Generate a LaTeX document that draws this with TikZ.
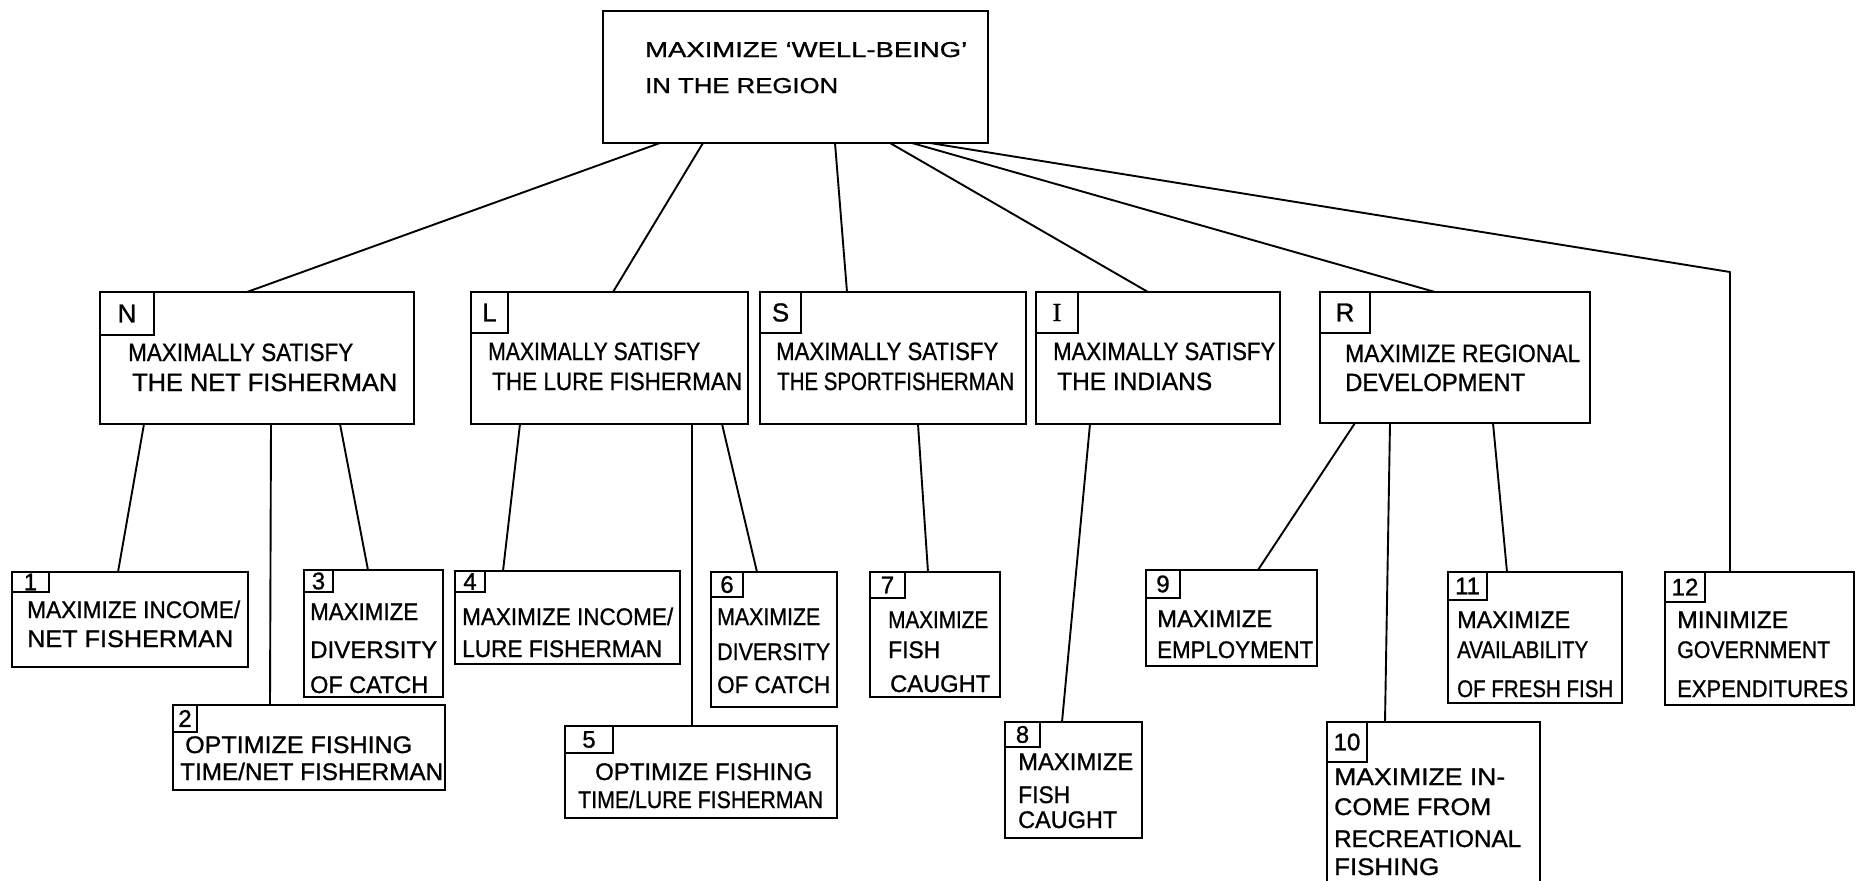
\documentclass[tikz,border=0pt]{standalone}
\usepackage{fontspec}
\usepackage{graphicx}
\setmainfont{Liberation Sans}[FakeBold=1.0]
\newfontfamily\serifI{Liberation Serif}[FakeBold=1.0]
\newcommand\fitw[2]{\resizebox{#1pt}{\height}{#2}}
\tikzset{
  box/.style={draw, line width=2.8pt, anchor=north west, inner sep=0pt, outer sep=0pt},
  lab/.style={draw, line width=1.5pt, anchor=north west, inner sep=0pt, outer sep=0pt, font=\fontsize{24}{24}\selectfont},
  labL/.style={lab, font=\fontsize{26}{26}\selectfont},
  ttop/.style={anchor=base west, inner sep=0pt, font=\fontsize{21.5}{26}\selectfont},
  tmid/.style={anchor=base west, inner sep=0pt, font=\fontsize{25}{30}\selectfont},
  tlow/.style={anchor=base west, inner sep=0pt, font=\fontsize{24}{28}\selectfont},
  conn/.style={line width=1.9pt, line cap=round, line join=round},
}
\begin{document}
\begin{tikzpicture}[x=1pt,y=-1pt]
\path[use as bounding box, fill=white] (0,0) rectangle (1856,881);
\clip (0,0) rectangle (1856,881);

% ---- top
\node[box, minimum width=385, minimum height=132] (top) at (603,11) {};
\node[ttop] (top-1) at (645,57) {\fitw{322}{MAXIMIZE `WELL-BEING'}};
\node[ttop] (top-2) at (645,93) {\fitw{193}{IN THE REGION}};

% ---- level 2
\node[box, minimum width=314, minimum height=132] (N) at (100,292) {};
\node[labL, minimum width=54, minimum height=43] (Nl) at (N.north west) {N};
\node[tmid] (N-1) at (128,361) {\fitw{225}{MAXIMALLY SATISFY}};
\node[tmid] (N-2) at (132,391) {\fitw{265}{THE NET FISHERMAN}};

\node[box, minimum width=277, minimum height=132] (L) at (471,292) {};
\node[labL, minimum width=37, minimum height=41] (Ll) at (L.north west) {L};
\node[tmid] (L-1) at (488,360) {\fitw{212}{MAXIMALLY SATISFY}};
\node[tmid] (L-2) at (492,390) {\fitw{250}{THE LURE FISHERMAN}};

\node[box, minimum width=266, minimum height=132] (S) at (760,292) {};
\node[labL, minimum width=41, minimum height=41] (Sl) at (S.north west) {S};
\node[tmid] (S-1) at (776,360) {\fitw{222}{MAXIMALLY SATISFY}};
\node[tmid] (S-2) at (777,390) {\fitw{237}{THE SPORTFISHERMAN}};

\node[box, minimum width=244, minimum height=132] (I) at (1036,292) {};
\node[labL, minimum width=42, minimum height=41] (Il) at (I.north west) {\serifI I};
\node[tmid] (I-1) at (1053,360) {\fitw{222}{MAXIMALLY SATISFY}};
\node[tmid] (I-2) at (1057,390) {\fitw{155}{THE INDIANS}};

\node[box, minimum width=270, minimum height=131] (R) at (1320,292) {};
\node[labL, minimum width=50, minimum height=41] (Rl) at (R.north west) {R};
\node[tmid] (R-1) at (1345,362) {\fitw{235}{MAXIMIZE REGIONAL}};
\node[tmid] (R-2) at (1345,391) {\fitw{180}{DEVELOPMENT}};

% ---- level 3
\node[box, minimum width=236, minimum height=95] (B1) at (12,572) {};
\node[lab, minimum width=37, minimum height=20] (B1l) at (B1.north west) {1};
\node[tlow] (B1-1) at (27,618) {\fitw{213}{MAXIMIZE INCOME/}};
\node[tlow] (B1-2) at (27,647) {\fitw{206}{NET FISHERMAN}};

\node[box, minimum width=272, minimum height=85] (B2) at (173,705) {};
\node[lab, minimum width=24, minimum height=27] (B2l) at (B2.north west) {2};
\node[tlow] (B2-1) at (185,753) {\fitw{227}{OPTIMIZE FISHING}};
\node[tlow] (B2-2) at (180,780) {\fitw{263}{TIME/NET FISHERMAN}};

\node[box, minimum width=139, minimum height=127] (B3) at (304,570) {};
\node[lab, minimum width=29, minimum height=22] (B3l) at (B3.north west) {3};
\node[tlow] (B3-1) at (310,620) {\fitw{108}{MAXIMIZE}};
\node[tlow] (B3-2) at (310,658) {\fitw{127}{DIVERSITY}};
\node[tlow] (B3-3) at (310,693) {\fitw{118}{OF CATCH}};

\node[box, minimum width=225, minimum height=93] (B4) at (455,571) {};
\node[lab, minimum width=30, minimum height=21] (B4l) at (B4.north west) {4};
\node[tlow] (B4-1) at (462,625) {\fitw{211}{MAXIMIZE INCOME/}};
\node[tlow] (B4-2) at (462,657) {\fitw{200}{LURE FISHERMAN}};

\node[box, minimum width=272, minimum height=92] (B5) at (565,726) {};
\node[lab, minimum width=48, minimum height=27] (B5l) at (B5.north west) {5};
\node[tlow] (B5-1) at (595,780) {\fitw{217}{OPTIMIZE FISHING}};
\node[tlow] (B5-2) at (578,808) {\fitw{245}{TIME/LURE FISHERMAN}};

\node[box, minimum width=126, minimum height=135] (B6) at (711,572) {};
\node[lab, minimum width=32, minimum height=25] (B6l) at (B6.north west) {6};
\node[tlow] (B6-1) at (717,625) {\fitw{103}{MAXIMIZE}};
\node[tlow] (B6-2) at (717,660) {\fitw{113}{DIVERSITY}};
\node[tlow] (B6-3) at (717,693) {\fitw{113}{OF CATCH}};

\node[box, minimum width=130, minimum height=125] (B7) at (870,572) {};
\node[lab, minimum width=35, minimum height=26] (B7l) at (B7.north west) {7};
\node[tlow] (B7-1) at (888,628) {\fitw{100}{MAXIMIZE}};
\node[tlow] (B7-2) at (888,658) {\fitw{52}{FISH}};
\node[tlow] (B7-3) at (890,692) {\fitw{100}{CAUGHT}};

\node[box, minimum width=137, minimum height=116] (B8) at (1005,722) {};
\node[lab, minimum width=35, minimum height=25] (B8l) at (B8.north west) {8};
\node[tlow] (B8-1) at (1018,770) {\fitw{115}{MAXIMIZE}};
\node[tlow] (B8-2) at (1018,803) {\fitw{52}{FISH}};
\node[tlow] (B8-3) at (1018,828) {\fitw{99}{CAUGHT}};

\node[box, minimum width=171, minimum height=96] (B9) at (1146,570) {};
\node[lab, minimum width=34, minimum height=28] (B9l) at (B9.north west) {9};
\node[tlow] (B9-1) at (1157,627) {\fitw{115}{MAXIMIZE}};
\node[tlow] (B9-2) at (1157,658) {\fitw{156}{EMPLOYMENT}};

\node[box, minimum width=213, minimum height=200] (B10) at (1327,722) {};
\node[lab, minimum width=40, minimum height=40] (B10l) at (B10.north west) {10};
\node[tlow] (B10-1) at (1334,785) {\fitw{171}{MAXIMIZE IN-}};
\node[tlow] (B10-2) at (1334,815) {\fitw{157}{COME FROM}};
\node[tlow] (B10-3) at (1334,847) {\fitw{187}{RECREATIONAL}};
\node[tlow] (B10-4) at (1334,875) {\fitw{105}{FISHING}};

\node[box, minimum width=174, minimum height=131] (B11) at (1448,572) {};
\node[lab, minimum width=39, minimum height=28] (B11l) at (B11.north west) {11};
\node[tlow] (B11-1) at (1457,628) {\fitw{113}{MAXIMIZE}};
\node[tlow] (B11-2) at (1457,658) {\fitw{131}{AVAILABILITY}};
\node[tlow] (B11-3) at (1457,697) {\fitw{156}{OF FRESH FISH}};

\node[box, minimum width=189, minimum height=133] (B12) at (1665,572) {};
\node[lab, minimum width=40, minimum height=30] (B12l) at (B12.north west) {12};
\node[tlow] (B12-1) at (1677,628) {\fitw{111}{MINIMIZE}};
\node[tlow] (B12-2) at (1677,658) {\fitw{153}{GOVERNMENT}};
\node[tlow] (B12-3) at (1677,697) {\fitw{171}{EXPENDITURES}};

% ---- connectors top -> level 2
\draw[conn] ([xshift=57pt]top.south west) -- ([xshift=147pt]N.north west);
\draw[conn] ([xshift=100pt]top.south west) -- ([xshift=142pt]L.north west);
\draw[conn] ([xshift=232pt]top.south west) -- ([xshift=87pt]S.north west);
\draw[conn] ([xshift=287pt]top.south west) -- ([xshift=112pt]I.north west);
\draw[conn] ([xshift=309pt]top.south west) -- ([xshift=115pt]R.north west);
\coordinate (k12) at (1730,272);
\draw[conn] ([xshift=327pt]top.south west) -- (k12) -- ([xshift=65pt]B12.north west);

% ---- level 2 -> level 3
\draw[conn] ([xshift=44pt]N.south west) -- ([xshift=106pt]B1.north west);
\draw[conn] ([xshift=171pt]N.south west) -- ([xshift=97pt]B2.north west);
\draw[conn] ([xshift=240pt]N.south west) -- ([xshift=64pt]B3.north west);
\draw[conn] ([xshift=49pt]L.south west) -- ([xshift=48pt]B4.north west);
\draw[conn] ([xshift=221pt]L.south west) -- ([xshift=127pt]B5.north west);
\draw[conn] ([xshift=251pt]L.south west) -- ([xshift=46pt]B6.north west);
\draw[conn] ([xshift=158pt]S.south west) -- ([xshift=58pt]B7.north west);
\draw[conn] ([xshift=54pt]I.south west) -- ([xshift=57pt]B8.north west);
\draw[conn] ([xshift=35pt]R.south west) -- ([xshift=112pt]B9.north west);
\draw[conn] ([xshift=70pt]R.south west) -- ([xshift=58pt]B10.north west);
\draw[conn] ([xshift=173pt]R.south west) -- ([xshift=59pt]B11.north west);
\end{tikzpicture}
\end{document}
